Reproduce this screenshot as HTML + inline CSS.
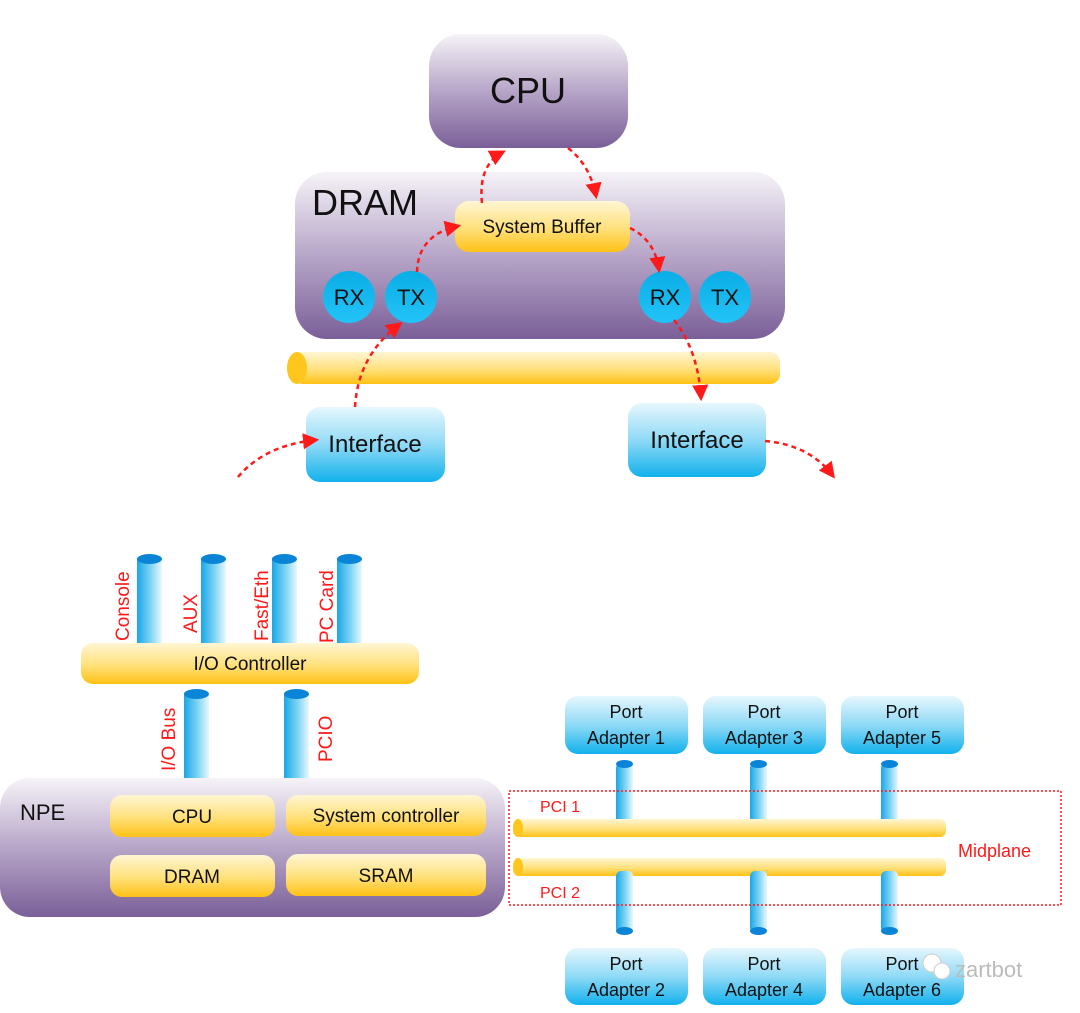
<!DOCTYPE html>
<html><head><meta charset="utf-8"><style>
html,body{margin:0;padding:0;background:#fff;}
svg{display:block;font-family:"Liberation Sans","DejaVu Sans",sans-serif;}
</style></head><body>
<svg width="1080" height="1013" viewBox="0 0 1080 1013" xmlns="http://www.w3.org/2000/svg">
<defs>
<linearGradient id="pur" x1="0" y1="0" x2="0" y2="1"><stop offset="0" stop-color="#f6f3f8"/><stop offset="0.5" stop-color="#b7a6c8"/><stop offset="1" stop-color="#7a5f98"/></linearGradient>
<linearGradient id="yel" x1="0" y1="0" x2="0" y2="1"><stop offset="0" stop-color="#fff6d4"/><stop offset="0.55" stop-color="#ffe07a"/><stop offset="1" stop-color="#ffc115"/></linearGradient>
<linearGradient id="blu" x1="0" y1="0" x2="0" y2="1"><stop offset="0" stop-color="#e6f7fd"/><stop offset="0.5" stop-color="#8fdaf6"/><stop offset="1" stop-color="#12b1ec"/></linearGradient>
<linearGradient id="circ" x1="0" y1="0" x2="0" y2="1"><stop offset="0" stop-color="#0aaee6"/><stop offset="1" stop-color="#22c3f7"/></linearGradient>
<linearGradient id="cyl" x1="0" y1="0" x2="1" y2="0"><stop offset="0" stop-color="#1aa7e6"/><stop offset="0.55" stop-color="#7fd4f5"/><stop offset="1" stop-color="#eaf8fe"/></linearGradient>
<marker id="ah" viewBox="0 0 10 10" refX="8" refY="5" markerWidth="6.5" markerHeight="6.5" orient="auto"><path d="M0,0 L10,5 L0,10 z" fill="#ff1a1a"/></marker>
</defs>

<rect x="429" y="34" width="199" height="114" rx="32" fill="url(#pur)"/>
<text x="528" y="103" font-size="36" text-anchor="middle" fill="#111">CPU</text>
<rect x="295" y="172" width="490" height="167" rx="32" fill="url(#pur)"/>
<text x="312" y="215" font-size="36" fill="#111">DRAM</text>
<rect x="455" y="201" width="175" height="51" rx="14" fill="url(#yel)"/>
<text x="542" y="233" font-size="19" text-anchor="middle" fill="#111">System Buffer</text>
<g font-size="22" text-anchor="middle" fill="#111">
<circle cx="349" cy="297" r="26" fill="url(#circ)"/><text x="349" y="305">RX</text>
<circle cx="411" cy="297" r="26" fill="url(#circ)"/><text x="411" y="305">TX</text>
<circle cx="665" cy="297" r="26" fill="url(#circ)"/><text x="665" y="305">RX</text>
<circle cx="725" cy="297" r="26" fill="url(#circ)"/><text x="725" y="305">TX</text>
</g>
<rect x="293" y="352" width="487" height="32" rx="10" fill="url(#yel)"/>
<ellipse cx="297" cy="368" rx="10" ry="16" fill="#ffc61e"/>
<rect x="306" y="407" width="139" height="75" rx="14" fill="url(#blu)"/>
<text x="375" y="452" font-size="24" text-anchor="middle" fill="#111">Interface</text>
<rect x="628" y="403" width="138" height="74" rx="14" fill="url(#blu)"/>
<text x="697" y="448" font-size="24" text-anchor="middle" fill="#111">Interface</text>

<g fill="none" stroke="#ff1a1a" stroke-width="2.5" stroke-dasharray="5,4" marker-end="url(#ah)">
<path d="M238,477 Q265,445 316,440"/>
<path d="M355,407 Q358,355 400,324"/>
<path d="M417,272 Q418,235 458,226"/>
<path d="M482,203 Q478,165 503,152"/>
<path d="M568,148 Q590,165 596,196"/>
<path d="M630,228 Q655,240 659,270"/>
<path d="M674,320 Q698,350 701,398"/>
<path d="M765,441 Q810,445 833,476"/>
</g>

<g>
<rect x="137" y="558" width="25" height="92" fill="url(#cyl)"/><ellipse cx="149.5" cy="559" rx="12.5" ry="5" fill="#0a84d6"/>
<rect x="201" y="558" width="25" height="92" fill="url(#cyl)"/><ellipse cx="213.5" cy="559" rx="12.5" ry="5" fill="#0a84d6"/>
<rect x="272" y="558" width="25" height="92" fill="url(#cyl)"/><ellipse cx="284.5" cy="559" rx="12.5" ry="5" fill="#0a84d6"/>
<rect x="337" y="558" width="25" height="92" fill="url(#cyl)"/><ellipse cx="349.5" cy="559" rx="12.5" ry="5" fill="#0a84d6"/>
</g>
<g font-size="19" fill="#ff1a1a">
<text transform="translate(129,641) rotate(-90)">Console</text>
<text transform="translate(197,633) rotate(-90)">AUX</text>
<text transform="translate(268,641) rotate(-90)">Fast/Eth</text>
<text transform="translate(333,643) rotate(-90)">PC Card</text>
<text transform="translate(175,771) rotate(-90)">I/O Bus</text>
<text transform="translate(332,762) rotate(-90)">PCIO</text>
</g>
<rect x="81" y="643" width="338" height="41" rx="12" fill="url(#yel)"/>
<text x="250" y="670" font-size="19" text-anchor="middle" fill="#111">I/O Controller</text>
<rect x="184" y="693" width="25" height="89" fill="url(#cyl)"/><ellipse cx="196.5" cy="694" rx="12.5" ry="5" fill="#0a84d6"/>
<rect x="284" y="693" width="25" height="89" fill="url(#cyl)"/><ellipse cx="296.5" cy="694" rx="12.5" ry="5" fill="#0a84d6"/>

<rect x="0" y="778" width="505" height="139" rx="30" fill="url(#pur)"/>
<text x="20" y="820" font-size="22" fill="#111">NPE</text>
<rect x="110" y="795" width="165" height="42" rx="12" fill="url(#yel)"/>
<text x="192" y="823" font-size="19" text-anchor="middle" fill="#111">CPU</text>
<rect x="286" y="795" width="200" height="41" rx="12" fill="url(#yel)"/>
<text x="386" y="822" font-size="19" text-anchor="middle" fill="#111">System controller</text>
<rect x="110" y="855" width="165" height="42" rx="12" fill="url(#yel)"/>
<text x="192" y="883" font-size="19" text-anchor="middle" fill="#111">DRAM</text>
<rect x="286" y="854" width="200" height="42" rx="12" fill="url(#yel)"/>
<text x="386" y="882" font-size="19" text-anchor="middle" fill="#111">SRAM</text>

<g font-size="18" text-anchor="middle" fill="#111">
<rect x="565" y="696" width="123" height="58" rx="13" fill="url(#blu)"/><text x="626" y="718">Port</text><text x="626" y="744">Adapter 1</text>
<rect x="703" y="696" width="123" height="58" rx="13" fill="url(#blu)"/><text x="764" y="718">Port</text><text x="764" y="744">Adapter 3</text>
<rect x="841" y="696" width="123" height="58" rx="13" fill="url(#blu)"/><text x="902" y="718">Port</text><text x="902" y="744">Adapter 5</text>
<rect x="565" y="948" width="123" height="57" rx="13" fill="url(#blu)"/><text x="626" y="970">Port</text><text x="626" y="996">Adapter 2</text>
<rect x="703" y="948" width="123" height="57" rx="13" fill="url(#blu)"/><text x="764" y="970">Port</text><text x="764" y="996">Adapter 4</text>
<rect x="841" y="948" width="123" height="57" rx="13" fill="url(#blu)"/><text x="902" y="970">Port</text><text x="902" y="996">Adapter 6</text>
</g>
<g>
<rect x="616" y="763" width="17" height="62" rx="5" fill="url(#cyl)"/><ellipse cx="624.5" cy="764" rx="8.5" ry="4" fill="#0a84d6"/>
<rect x="750" y="763" width="17" height="62" rx="5" fill="url(#cyl)"/><ellipse cx="758.5" cy="764" rx="8.5" ry="4" fill="#0a84d6"/>
<rect x="881" y="763" width="17" height="62" rx="5" fill="url(#cyl)"/><ellipse cx="889.5" cy="764" rx="8.5" ry="4" fill="#0a84d6"/>
</g>
<rect x="513" y="819" width="433" height="18" rx="6" fill="url(#yel)"/><ellipse cx="518" cy="828" rx="5" ry="9" fill="#ffc61e"/>
<rect x="513" y="858" width="433" height="18" rx="6" fill="url(#yel)"/><ellipse cx="518" cy="867" rx="5" ry="9" fill="#ffc61e"/>
<g>
<rect x="616" y="871" width="17" height="62" rx="5" fill="url(#cyl)"/><ellipse cx="624.5" cy="931" rx="8.5" ry="4" fill="#0a84d6"/>
<rect x="750" y="871" width="17" height="62" rx="5" fill="url(#cyl)"/><ellipse cx="758.5" cy="931" rx="8.5" ry="4" fill="#0a84d6"/>
<rect x="881" y="871" width="17" height="62" rx="5" fill="url(#cyl)"/><ellipse cx="889.5" cy="931" rx="8.5" ry="4" fill="#0a84d6"/>
</g>
<rect x="509" y="791" width="552" height="114" fill="none" stroke="#ff1a1a" stroke-width="1.5" stroke-dasharray="2,2"/>
<g font-size="16" fill="#ff1a1a">
<text x="540" y="812">PCI 1</text>
<text x="540" y="898">PCI 2</text>
<text x="958" y="857" font-size="18">Midplane</text>
</g>
<text x="955" y="977" font-size="22" fill="#bbb">zartbot</text>
<circle cx="932" cy="963" r="9" fill="#fff" stroke="#ccc"/>
<circle cx="942" cy="971" r="8" fill="#fff" stroke="#ccc"/>
</svg>
</body></html>
